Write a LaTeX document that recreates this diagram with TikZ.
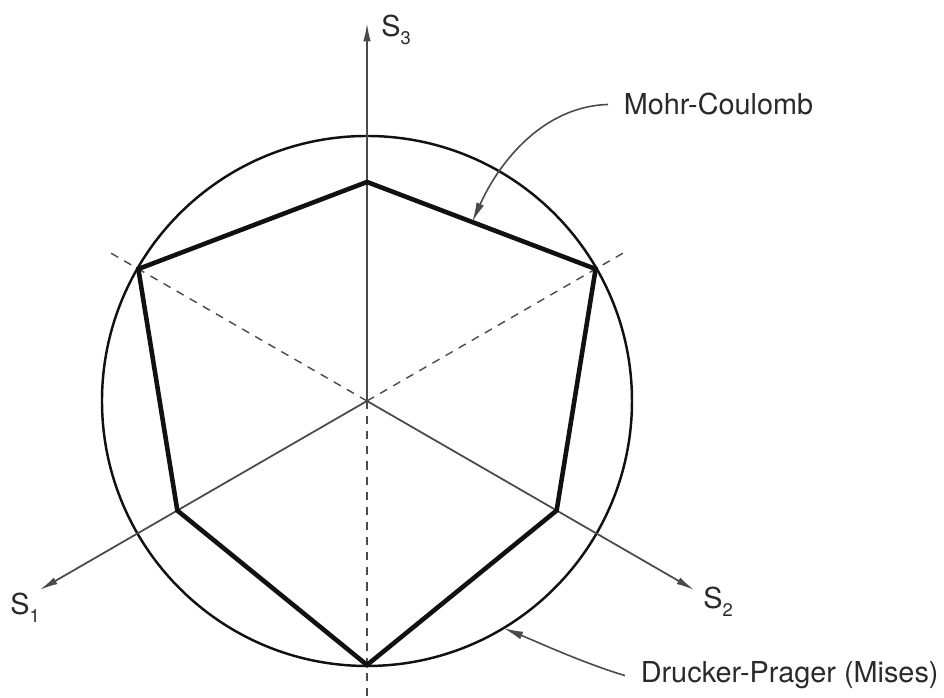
\documentclass[tikz,border=0pt]{standalone}
\usepackage{fontspec}
\setmainfont{TeX Gyre Heros}
\usetikzlibrary{arrows.meta,calc,positioning}
\definecolor{InkDark}{HTML}{111111}
\definecolor{InkSoft}{HTML}{4A4A4A}
\definecolor{InkText}{HTML}{2A2A2A}
\newcommand{\stresssub}[1]{\raisebox{-0.55ex}{\fontsize{5.2pt}{6pt}\selectfont #1}}
\tikzset{
  yieldmc/.style={line width=1.3pt, draw=InkDark, line join=miter},
  yielddp/.style={line width=0.7pt, draw=InkDark},
  axisline/.style={line width=0.5pt, draw=InkSoft, -{Latex[length=5.2pt, width=2.1pt]}},
  hidden/.style={line width=0.4pt, draw=InkSoft, dash pattern=on 2.3pt off 2pt},
  leader/.style={line width=0.45pt, draw=InkSoft, -{Latex[length=5.6pt, width=2.3pt]}},
  axlbl/.style={font=\fontsize{8.2pt}{10pt}\selectfont, text=InkText, inner sep=0pt},
  tag/.style={font=\fontsize{8.2pt}{10pt}\selectfont, text=InkText, inner xsep=4.3pt, inner ysep=0pt, anchor=base west},
}
\begin{document}
\begin{tikzpicture}[x=0.01cm, y=0.01cm]
\useasboundingbox (-367,-297) rectangle (577,401);
\coordinate (O) at (0,0);
% ---------- Drucker-Prager circle
\draw[yielddp] (O) circle[radius=265];
% ---------- dashed projections
\foreach \a/\n in {30/a,150/b,270/c}{
  \draw[hidden] (O) -- (\a:298) coordinate (h\n);
}
% ---------- principal stress axes
\foreach \a/\n in {90/3,210/1,330/2}{
  \draw[axisline] (O) -- (\a:378) coordinate (t\n);
}
\node[axlbl] (l3) at (29,371) {S\stresssub{3}};
\node[axlbl] (l1) at (-342,-207) {S\stresssub{1}};
\node[axlbl] (l2) at (351,-201) {S\stresssub{2}};
% ---------- Mohr-Coulomb hexagon
\coordinate (v1) at (90:219);
\coordinate (v2) at (30:264);
\coordinate (v3) at (-30:219);
\coordinate (v4) at (-90:264);
\coordinate (v5) at (-150:219);
\coordinate (v6) at (150:264);
\draw[yieldmc] (v1) -- (v2) -- (v3) -- (v4) -- (v5) -- (v6) -- cycle;
% ---------- labels and leaders
\node[tag] (mc) at (241,286) {Mohr-Coulomb};
\node[tag] (dp) at (258,-282) {Drucker-Prager (Mises)};
\coordinate (mctip) at ($(v1)!0.46!(v2)$);
\coordinate (dptip) at (-59:265);
\draw[leader] (mc.west) .. controls +(-65,-2) and +(27,60) .. (mctip);
\draw[leader] (dp.west) .. controls +(-43,13) and +(32,-13) .. (dptip);
\end{tikzpicture}
\end{document}
